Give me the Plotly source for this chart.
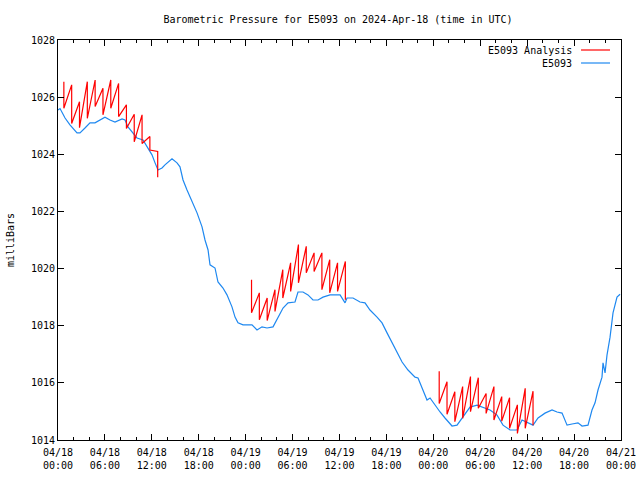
import pandas as pd
import plotly.graph_objects as go

# ---------------- data ----------------
start = pd.Timestamp("2024-04-18 00:00")

# observed station pressure (hours after 04/18 00:00 UTC, millibars)
blue_hours = [0.0, 0.26, 0.9, 1.53, 2.43, 2.81, 3.45, 4.09, 4.73, 5.37, 6.01, 6.65, 7.29, 8.19, 8.57,
              8.95, 9.59, 10.1, 10.87, 11.51, 12.02, 12.41, 12.79, 13.3, 13.68, 14.58, 15.22, 15.6,
              15.99, 16.5, 17.14, 17.78, 18.42, 18.8, 19.19, 19.44, 20.08, 20.46, 21.1, 21.61, 22.25,
              22.64, 23.02, 23.66, 24.81, 25.45, 26.09, 26.73, 27.5, 28.14, 28.78, 29.42, 30.31,
              30.69, 31.33, 31.97, 32.61, 33.25, 33.89, 34.79, 36.07, 36.71, 36.96, 37.73, 38.62,
              39.26, 39.9, 40.8, 41.44, 42.08, 42.72, 43.36, 44.0, 44.76, 45.66, 46.04, 46.68, 47.19,
              47.58, 48.22, 48.86, 49.49, 50.39, 51.03, 51.8, 52.69, 53.59, 54.35, 55.25, 56.15,
              56.91, 57.81, 58.7, 59.34, 59.98, 60.75, 61.39, 62.28, 63.18, 63.82, 64.46, 65.1,
              65.74, 66.5, 67.02, 67.78, 68.29, 68.68, 69.06, 69.57, 69.7, 69.96, 70.21, 70.6,
              70.98, 71.49, 71.88]
blue_mb = [1025.55, 1025.6, 1025.27, 1025.03, 1024.75, 1024.75, 1024.92, 1025.1, 1025.1, 1025.2,
           1025.3, 1025.2, 1025.13, 1025.24, 1025.2, 1024.96, 1024.75, 1024.57, 1024.5, 1024.22,
           1023.98, 1023.7, 1023.45, 1023.52, 1023.63, 1023.84, 1023.7, 1023.56, 1023.1, 1022.75,
           1022.33, 1021.95, 1021.46, 1021.0, 1020.65, 1020.13, 1020.02, 1019.53, 1019.32, 1019.08,
           1018.66, 1018.3, 1018.1, 1018.03, 1018.03, 1017.85, 1017.96, 1017.92, 1017.96, 1018.27,
           1018.62, 1018.8, 1018.83, 1019.18, 1019.18, 1019.08, 1018.9, 1018.9, 1019.0, 1019.08,
           1019.08, 1018.8, 1018.97, 1018.97, 1018.83, 1018.8, 1018.55, 1018.3, 1018.1, 1017.75,
           1017.4, 1017.05, 1016.73, 1016.45, 1016.2, 1016.17, 1015.75, 1015.4, 1015.47, 1015.22,
           1014.98, 1014.77, 1014.49, 1014.52, 1014.8, 1015.15, 1015.22, 1015.15, 1015.05, 1014.87,
           1014.52, 1014.35, 1014.35, 1014.7, 1014.63, 1014.52, 1014.77, 1014.94, 1015.05, 1014.98,
           1014.94, 1014.52, 1014.56, 1014.6, 1014.49, 1014.52, 1015.05, 1015.3, 1015.75, 1016.2,
           1016.7, 1016.35, 1016.97, 1017.6, 1018.45, 1019.0, 1019.1]

# analysis: hourly cycles (cycle start hour, top value, bottom value) per run segment
seg1_hours = [0.75, 1.75, 2.75, 3.75, 4.75, 5.75, 6.75, 7.75, 8.75, 9.75, 10.75, 11.75, 12.75]
seg1_top = [1026.54, 1026.43, 1025.84, 1026.54, 1026.6, 1026.31, 1026.6, 1026.48, 1025.73,
            1025.4, 1025.38, 1024.62, 1024.1]
seg1_bot = [1025.61, 1025.08, 1024.93, 1025.26, 1025.67, 1025.38, 1025.61, 1025.32, 1024.9,
            1024.44, 1024.38, 1024.15, 1023.2]

seg2_hours = [24.75, 25.75, 26.75, 27.75, 28.75, 29.75, 30.75, 31.75, 32.75, 33.75, 34.75, 35.75, 36.75]
seg2_top = [1019.61, 1019.15, 1018.97, 1019.26, 1019.96, 1020.2, 1020.84, 1020.78, 1020.55,
            1020.55, 1020.31, 1020.2, 1020.25]
seg2_bot = [1018.45, 1018.21, 1018.18, 1018.5, 1018.97, 1019.2, 1019.5, 1019.85, 1019.9,
            1019.26, 1019.15, 1019.2, 1018.91]

seg3_hours = [48.75, 49.75, 50.75, 51.75, 52.75, 53.75, 54.75, 55.75, 56.75, 57.75, 58.75, 59.75, 60.75]
seg3_top = [1016.41, 1016.04, 1015.69, 1015.87, 1016.22, 1016.18, 1015.63, 1015.87, 1015.52,
            1015.48, 1015.23, 1015.81, 1015.71]
seg3_bot = [1015.28, 1014.9, 1014.64, 1014.76, 1014.99, 1015.11, 1014.93, 1014.7, 1014.66,
            1014.41, 1014.23, 1014.41, 1014.52]

y_ticks = [1014, 1016, 1018, 1020, 1022, 1024, 1026, 1028]
x_tick_hours = [0, 6, 12, 18, 24, 30, 36, 42, 48, 54, 60, 66, 72]
x_tick_labels = ["04/18<br>00:00", "04/18<br>06:00", "04/18<br>12:00", "04/18<br>18:00",
                 "04/19<br>00:00", "04/19<br>06:00", "04/19<br>12:00", "04/19<br>18:00",
                 "04/20<br>00:00", "04/20<br>06:00", "04/20<br>12:00", "04/20<br>18:00",
                 "04/21<br>00:00"]

title_text = "Barometric Pressure for E5093 on 2024-Apr-18 (time in UTC)"
y_title = "milliBars"
legend_names = ["E5093 Analysis", "E5093"]

RED = "#ff0000"
BLUE = "#1e88f0"
FONT = "DejaVu Sans Mono"


def to_time(h):
    return start + pd.Timedelta(hours=h)


# build analysis path
red_x, red_y = [], []
for hrs, tops, bots in [(seg1_hours, seg1_top, seg1_bot),
                        (seg2_hours, seg2_top, seg2_bot),
                        (seg3_hours, seg3_top, seg3_bot)]:
    for h, t, b in zip(hrs, tops, bots):
        red_x += [to_time(h), to_time(h)]
        red_y += [t, b]
    red_x.append(None)
    red_y.append(None)

fig = go.Figure()
fig.add_trace(go.Scatter(x=[to_time(h) for h in blue_hours], y=blue_mb, mode="lines",
                         line=dict(color=BLUE, width=1.2), name=legend_names[1],
                         connectgaps=False, showlegend=False))
fig.add_trace(go.Scatter(x=red_x, y=red_y, mode="lines",
                         line=dict(color=RED, width=1.2), name=legend_names[0],
                         connectgaps=False, showlegend=False))

# legend drawn gnuplot-style (text right, sample line to its right)
for i, (name, col) in enumerate([(legend_names[0], RED), (legend_names[1], BLUE)]):
    yp = 0.975 - i * 0.0325
    fig.add_annotation(x=0.9165, y=yp, xref="paper", yref="paper", text=name,
                       showarrow=False, xanchor="right", yanchor="middle",
                       font=dict(family=FONT, size=10, color="black"))
    fig.add_shape(type="line", xref="paper", yref="paper", x0=0.929, x1=0.9805,
                  y0=yp, y1=yp, line=dict(color=col, width=1.2))

axis_common = dict(showline=True, linecolor="black", linewidth=1, mirror="allticks",
                   ticks="inside", ticklen=6, tickcolor="black", showgrid=False,
                   zeroline=False, automargin=False,
                   tickfont=dict(family=FONT, size=10, color="black"))

W, H = 640, 480
fig.update_layout(
    width=W, height=H,
    margin=dict(l=58, r=19, t=40, b=40),
    paper_bgcolor="white", plot_bgcolor="white",
    title=dict(text=title_text, x=338 / W, xanchor="center", y=1 - 19 / H, yanchor="middle",
               font=dict(family=FONT, size=10, color="black")),
    xaxis=dict(type="date", range=[to_time(0), to_time(72)],
               tickvals=[to_time(h) for h in x_tick_hours], ticktext=x_tick_labels,
               ticklabelstandoff=3,
               minor=dict(dtick=2 * 3600 * 1000, ticks="inside", ticklen=3, tickcolor="black"),
               **axis_common),
    yaxis=dict(range=[1014, 1028], tickvals=y_ticks, ticktext=[str(v) for v in y_ticks],
               title=dict(text=y_title, font=dict(family=FONT, size=10, color="black"), standoff=14),
               **axis_common),
    showlegend=False,
)

fig.write_html("out.html", config={"displayModeBar": False},
               post_script="document.body.style.margin='0px';")
